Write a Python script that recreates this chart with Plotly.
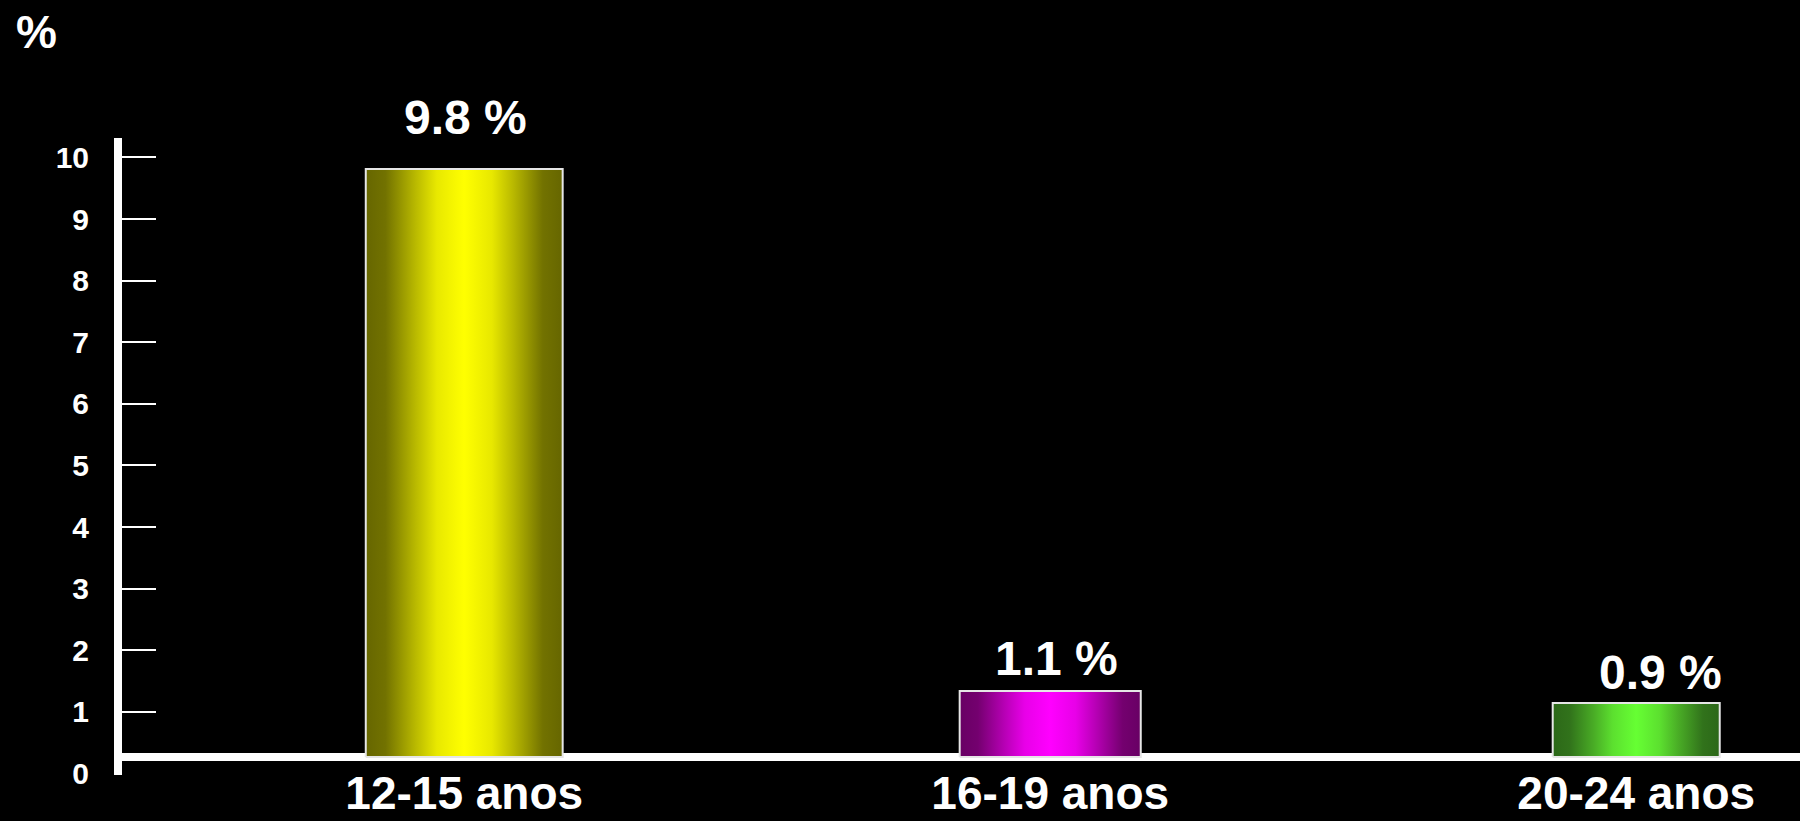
import plotly.graph_objects as go

# ---- data ----
categories = ["12-15 anos", "16-19 anos", "20-24 anos"]
values = [9.8, 1.1, 0.9]
tick_values = [0, 1, 2, 3, 4, 5, 6, 7, 8, 9, 10]
tick_labels = ["0", "1", "2", "3", "4", "5", "6", "7", "8", "9", "10"]
y_unit = "%"

# ---- style ----
bar_widths = [0.336, 0.309, 0.285]
bar_scales = [
    [[0, "#666600"], [0.1, "#727200"], [0.25, "#b8b800"], [0.36, "#e8e800"], [0.5, "#ffff00"],
     [0.64, "#e8e800"], [0.75, "#b8b800"], [0.9, "#727200"], [1, "#666600"]],
    [[0, "#680064"], [0.1, "#74006f"], [0.25, "#b800b6"], [0.36, "#e800e8"], [0.5, "#ff00ff"],
     [0.64, "#e800e8"], [0.75, "#b800b6"], [0.9, "#74006f"], [1, "#680064"]],
    [[0, "#2c6818"], [0.1, "#31721b"], [0.25, "#4aae26"], [0.36, "#5ce02f"], [0.5, "#66ff33"],
     [0.64, "#5ce02f"], [0.75, "#4aae26"], [0.9, "#31721b"], [1, "#2c6818"]],
]
label_xshift = [1, 6, 24]
label_yshift = [23, 4, 2]
FONT = "Liberation Sans, Arial, Helvetica, sans-serif"

fig = go.Figure()

for i, (cat, v) in enumerate(zip(categories, values)):
    w = bar_widths[i]
    xs = [i - w / 2, i + w / 2, i + w / 2, i - w / 2, i - w / 2]
    ys = [0, 0, v, v, 0]
    fig.add_trace(go.Scatter(
        x=xs, y=ys, mode="lines", fill="toself",
        fillgradient=dict(type="horizontal", colorscale=bar_scales[i]),
        line=dict(color="#e6e6e6", width=2),
        name=cat, showlegend=False, hoverinfo="skip",
    ))
    fig.add_annotation(
        x=i, y=v, xref="x", yref="y", text=f"<b>{v:.1f} %</b>",
        showarrow=False, yanchor="bottom", xanchor="center",
        xshift=label_xshift[i], yshift=label_yshift[i],
        font=dict(family=FONT, size=48, color="white"),
    )

# empty traces so the overlaid tick-mark and tick-label axes render
fig.add_trace(go.Scatter(x=[None], y=[None], yaxis="y2", showlegend=False, hoverinfo="skip"))
fig.add_trace(go.Scatter(x=[None], y=[None], yaxis="y3", showlegend=False, hoverinfo="skip"))

fig.add_annotation(
    x=-0.0645, y=1.166, xref="paper", yref="paper", text=f"<b>{y_unit}</b>",
    showarrow=False, xanchor="left", yanchor="middle",
    font=dict(family=FONT, size=46, color="white"),
)

label_range = [-0.0244, 10.316]

fig.update_layout(
    width=1800, height=821,
    margin=dict(l=122, r=0, t=138, b=46),
    paper_bgcolor="black", plot_bgcolor="black",
    showlegend=False,
    xaxis=dict(
        range=[-0.584, 2.2795], tickmode="array", tickvals=list(range(len(categories))),
        ticktext=[f"<b>{c}</b>" for c in categories],
        tickfont=dict(family=FONT, size=46, color="white"),
        showgrid=False, zeroline=False, showline=False, ticks="", automargin=False,
        ticklabelstandoff=-13,
    ),
    yaxis=dict(
        range=[-0.3, 10.317], showgrid=False, showticklabels=False, ticks="",
        zeroline=True, zerolinecolor="white", zerolinewidth=8, showline=False,
        automargin=False,
    ),
    yaxis2=dict(
        overlaying="y", side="left", range=label_range,
        tickmode="array", tickvals=tick_values[1:], showticklabels=False,
        ticks="inside", ticklen=34, tickwidth=2, tickcolor="white",
        showline=True, linecolor="white", linewidth=8,
        showgrid=False, zeroline=False, automargin=False,
    ),
    yaxis3=dict(
        overlaying="y", side="left", range=label_range,
        tickmode="array", tickvals=tick_values, ticktext=[f"<b>{t}</b>" for t in tick_labels],
        tickfont=dict(family=FONT, size=30, color="white"),
        ticks="", showline=False, showgrid=False, zeroline=False, automargin=False,
        ticklabelstandoff=32,
    ),
)

fig.write_html(
    "out.html",
    config={"displayModeBar": False},
    post_script="document.body.style.margin='0';document.body.style.overflow='hidden';document.body.style.background='black';",
)
